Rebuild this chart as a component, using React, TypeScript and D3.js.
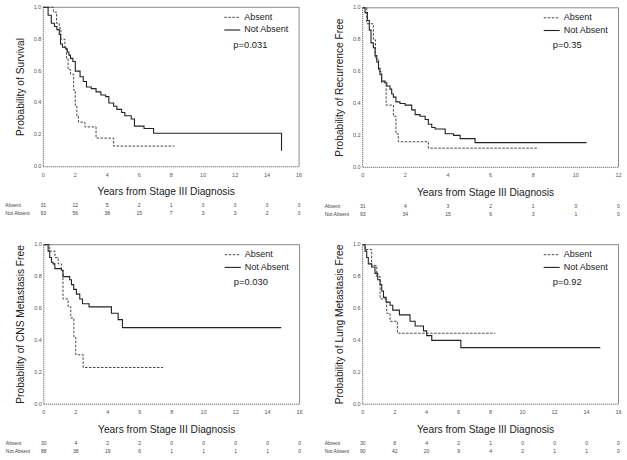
import React from "react";
import * as d3 from "d3";

// ---- Data ----
const groupLabels = ["Absent", "Not Absent"];
const panelTitles = [
  "Probability of Survival",
  "Probability of Recurrence Free",
  "Probability of CNS Metastasis Free",
  "Probability of Lung Metastasis Free",
];
const pValues = ["p=0.031", "p=0.35", "p=0.030", "p=0.92"];
const xMaxes = [16, 12, 16, 16];
const yTicks = [0, 0.2, 0.4, 0.6, 0.8, 1.0];

// step data: [time, survival after step]
const survAbsent: [number, number][] = [
  [0.63, 0.97], [0.83, 0.9], [1.0, 0.87], [1.1, 0.8], [1.35, 0.74], [1.45, 0.68],
  [1.55, 0.61], [1.7, 0.58], [1.9, 0.48], [2.0, 0.38], [2.1, 0.32], [2.2, 0.28],
  [2.6, 0.25], [3.3, 0.18], [4.4, 0.13],
];
const survAbsentEnd = 8.2;
const survNotAbsent: [number, number][] = [
  [0.3, 0.95], [0.5, 0.9], [0.7, 0.88], [0.85, 0.86], [1.0, 0.83], [1.08, 0.77],
  [1.2, 0.75], [1.4, 0.74], [1.5, 0.72], [1.6, 0.7], [1.7, 0.68], [1.85, 0.66],
  [2.0, 0.6], [2.3, 0.565], [2.5, 0.535], [2.7, 0.5], [3.0, 0.49], [3.3, 0.47],
  [3.6, 0.45], [3.9, 0.44], [4.1, 0.4], [4.4, 0.38], [4.6, 0.36], [4.9, 0.34],
  [5.1, 0.32], [5.5, 0.3], [5.7, 0.255], [6.3, 0.24], [6.9, 0.21], [14.9, 0.1],
];
const survNotAbsentEnd = 14.9;

const recAbsent: [number, number][] = [
  [0.19, 0.9], [0.5, 0.8], [0.6, 0.68], [0.75, 0.6], [0.89, 0.53], [1.1, 0.39],
  [1.44, 0.32], [1.56, 0.21], [1.67, 0.16], [3.08, 0.12],
];
const recAbsentEnd = 8.25;
const recNotAbsent: [number, number][] = [
  [0.11, 0.97], [0.22, 0.92], [0.31, 0.86], [0.39, 0.78], [0.5, 0.75], [0.58, 0.7],
  [0.66, 0.66], [0.74, 0.62], [0.81, 0.58], [0.89, 0.54], [1.05, 0.53], [1.13, 0.51],
  [1.28, 0.49], [1.36, 0.46], [1.44, 0.44], [1.56, 0.41], [1.75, 0.4], [1.99, 0.39],
  [2.3, 0.36], [2.46, 0.33], [2.69, 0.32], [2.93, 0.3], [3.08, 0.27], [3.24, 0.25],
  [3.4, 0.24], [3.87, 0.21], [4.26, 0.2], [4.57, 0.18], [5.27, 0.155],
];
const recNotAbsentEnd = 10.5;

const cnsAbsent: [number, number][] = [
  [0.37, 0.96], [0.7, 0.92], [0.9, 0.88], [1.1, 0.84], [1.2, 0.66], [1.52, 0.61],
  [1.69, 0.54], [1.88, 0.42], [2.0, 0.31], [2.46, 0.23],
];
const cnsAbsentEnd = 7.46;
const cnsNotAbsent: [number, number][] = [
  [0.27, 0.96], [0.37, 0.92], [0.48, 0.89], [0.58, 0.88], [0.69, 0.85], [1.1, 0.84],
  [1.2, 0.8], [1.62, 0.78], [1.73, 0.75], [1.87, 0.72], [2.04, 0.69], [2.25, 0.66],
  [2.42, 0.63], [2.83, 0.61], [4.23, 0.57], [4.65, 0.53], [4.92, 0.48],
];
const cnsNotAbsentEnd = 14.85;

const lungAbsent: [number, number][] = [
  [0.15, 0.97], [0.56, 0.87], [0.88, 0.8], [1.09, 0.66], [1.5, 0.57], [1.71, 0.52],
  [2.17, 0.445],
];
const lungAbsentEnd = 8.29;
const lungNotAbsent: [number, number][] = [
  [0.15, 0.96], [0.25, 0.92], [0.35, 0.88], [0.56, 0.86], [0.77, 0.82], [0.94, 0.78],
  [1.09, 0.75], [1.19, 0.71], [1.3, 0.67], [1.46, 0.64], [1.71, 0.62], [1.88, 0.59],
  [2.3, 0.56], [2.96, 0.52], [3.28, 0.49], [3.8, 0.46], [4.0, 0.43], [4.32, 0.4],
  [6.14, 0.355],
];
const lungNotAbsentEnd = 14.86;

// number at risk
const riskSurvAbsent = [31, 12, 5, 2, 1, 0, 0, 0, 0];
const riskSurvNotAbsent = [93, 56, 38, 15, 7, 3, 3, 2, 0];
const riskRecAbsent = [31, 4, 3, 2, 1, 0, 0];
const riskRecNotAbsent = [93, 34, 15, 6, 3, 1, 0];
const riskCnsAbsent = [30, 4, 2, 2, 0, 0, 0, 0, 0];
const riskCnsNotAbsent = [88, 38, 19, 6, 1, 1, 1, 1, 0];
const riskLungAbsent = [30, 8, 4, 2, 1, 0, 0, 0, 0];
const riskLungNotAbsent = [90, 42, 20, 9, 4, 2, 1, 1, 0];

const curves = [
  { a: survAbsent, aEnd: survAbsentEnd, n: survNotAbsent, nEnd: survNotAbsentEnd, ra: riskSurvAbsent, rn: riskSurvNotAbsent },
  { a: recAbsent, aEnd: recAbsentEnd, n: recNotAbsent, nEnd: recNotAbsentEnd, ra: riskRecAbsent, rn: riskRecNotAbsent },
  { a: cnsAbsent, aEnd: cnsAbsentEnd, n: cnsNotAbsent, nEnd: cnsNotAbsentEnd, ra: riskCnsAbsent, rn: riskCnsNotAbsent },
  { a: lungAbsent, aEnd: lungAbsentEnd, n: lungNotAbsent, nEnd: lungNotAbsentEnd, ra: riskLungAbsent, rn: riskLungNotAbsent },
];

// ---- Layout ----
const panelOrigins = [
  { x0: 43.3, y0: 7.3 },
  { x0: 362.7, y0: 7.8 },
  { x0: 43.8, y0: 244.7 },
  { x0: 362.7, y0: 244.7 },
];
const PW = 255.8;
const PH = 159.5;
const FONT = "'Liberation Sans', Arial, sans-serif";

function Panel({ idx }: { idx: number }) {
  const { x0, y0 } = panelOrigins[idx];
  const c = curves[idx];
  const xMax = xMaxes[idx];
  const x = d3.scaleLinear().domain([0, xMax]).range([x0, x0 + PW]);
  const y = d3.scaleLinear().domain([0, 1]).range([y0 + PH, y0]);
  const line = d3
    .line<[number, number]>()
    .x((d) => x(d[0]))
    .y((d) => y(d[1]))
    .curve(d3.curveStepAfter);
  const build = (steps: [number, number][], end: number): [number, number][] => {
    const pts: [number, number][] = [[0, 1], ...steps];
    const last = steps[steps.length - 1];
    if (end > last[0]) pts.push([end, last[1]]);
    return pts;
  };
  const xTicks = d3.range(0, xMax + 0.001, 2);
  const bottom = y0 + PH;
  const lx = x0 + 181;
  return (
    <g>
      {/* frame */}
      <line x1={x0} x2={x0 + PW} y1={y0} y2={y0} stroke="#8a8a8a" strokeWidth={1} />
      <line x1={x0 + PW} x2={x0 + PW} y1={y0} y2={bottom} stroke="#8a8a8a" strokeWidth={1} />
      <line x1={x0} x2={x0} y1={y0} y2={bottom} stroke="#444" strokeWidth={1} strokeDasharray="1,1" />
      <line x1={x0} x2={x0 + PW} y1={bottom} y2={bottom} stroke="#444" strokeWidth={1} strokeDasharray="1,1" />
      {/* y ticks */}
      {yTicks.map((t) => (
        <text key={"y" + t} x={x0 - 2} y={y(t)} fontSize={5.5} fill="#555" textAnchor="end" dominantBaseline="middle" fontFamily={FONT}>
          {t.toFixed(1)}
        </text>
      ))}
      {xTicks.map((t) => (
        <text key={"x" + t} x={x(t)} y={bottom + 8.5} fontSize={5.5} fill="#555" textAnchor="middle" dominantBaseline="middle" fontFamily={FONT}>
          {t}
        </text>
      ))}
      {/* curves */}
      <path d={line(build(c.n, c.nEnd)) || ""} fill="none" stroke="#222" strokeWidth={1.1} />
      <path d={line(build(c.a, c.aEnd)) || ""} fill="none" stroke="#333" strokeWidth={0.9} strokeDasharray="2.5,1.5" />
      {/* legend */}
      <line x1={lx} x2={lx + 16} y1={y0 + 10} y2={y0 + 10} stroke="#333" strokeWidth={0.9} strokeDasharray="2.5,1.5" />
      <text x={lx + 20} y={y0 + 10} fontSize={9} fill="#222" dominantBaseline="middle" fontFamily={FONT}>{groupLabels[0]}</text>
      <line x1={lx} x2={lx + 16} y1={y0 + 22.7} y2={y0 + 22.7} stroke="#222" strokeWidth={1.1} />
      <text x={lx + 20} y={y0 + 22.7} fontSize={9} fill="#222" dominantBaseline="middle" fontFamily={FONT}>{groupLabels[1]}</text>
      <text x={x0 + 190} y={y0 + 38} fontSize={9.4} fill="#222" dominantBaseline="middle" fontFamily={FONT}>{pValues[idx]}</text>
      {/* axis titles */}
      <text x={x0 + PW / 2 - 5} y={bottom + 26} fontSize={10.2} fill="#222" textAnchor="middle" dominantBaseline="middle" fontFamily={FONT}>
        Years from Stage III Diagnosis
      </text>
      <text
        transform={`translate(${x0 - 22},${y0 + PH / 2}) rotate(-90)`}
        fontSize={10.2}
        fill="#222"
        textAnchor="middle"
        dominantBaseline="middle"
        fontFamily={FONT}
      >
        {panelTitles[idx]}
      </text>
      {/* at risk */}
      <text x={x0 - 38} y={bottom + 39.3} fontSize={5} fill="#444" dominantBaseline="middle" fontFamily={FONT}>{groupLabels[0]}</text>
      <text x={x0 - 38} y={bottom + 47} fontSize={5} fill="#444" dominantBaseline="middle" fontFamily={FONT}>{groupLabels[1]}</text>
      {c.ra.map((v, i) => (
        <text key={"ra" + i} x={x(xTicks[i])} y={bottom + 39.3} fontSize={5} fill="#444" textAnchor="middle" dominantBaseline="middle" fontFamily={FONT}>{v}</text>
      ))}
      {c.rn.map((v, i) => (
        <text key={"rn" + i} x={x(xTicks[i])} y={bottom + 47} fontSize={5} fill="#444" textAnchor="middle" dominantBaseline="middle" fontFamily={FONT}>{v}</text>
      ))}
    </g>
  );
}

export default function App() {
  return (
    <svg width={627} height={460} style={{ position: "absolute", left: 0, top: 0, background: "#fff" }}>
      <rect width={627} height={460} fill="#fff" />
      {[0, 1, 2, 3].map((i) => (
        <Panel key={i} idx={i} />
      ))}
    </svg>
  );
}
